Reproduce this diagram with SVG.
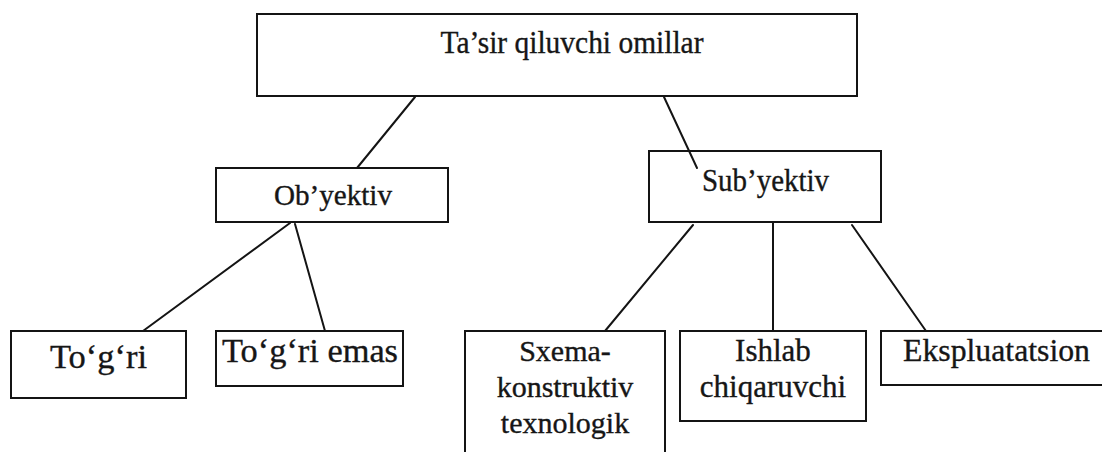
<svg xmlns="http://www.w3.org/2000/svg" width="1102" height="452" viewBox="0 0 1102 452">
  <style>
    .box { fill: #ffffff; stroke: #141414; stroke-width: 2; }
    .link { stroke: #141414; stroke-width: 2; fill: none; stroke-linecap: round; }
    .lbl { font-family: 'Liberation Serif', 'DejaVu Serif', 'Times New Roman', serif; fill: #161616; stroke: #161616; stroke-width: 0.35; text-anchor: middle; }
  </style>
  <rect width="1102" height="452" fill="#ffffff"/>

  <!-- top-level factor -->
  <g id="node-root">
    <rect class="box" x="257" y="14" width="600" height="82"/>
    <text class="lbl" x="572" y="53" font-size="31" textLength="263" lengthAdjust="spacingAndGlyphs">Ta’sir qiluvchi omillar</text>
  </g>

  <!-- second level -->
  <g id="node-obyektiv">
    <rect class="box" x="216" y="168" width="232" height="54"/>
    <text class="lbl" x="333" y="205" font-size="29" textLength="118" lengthAdjust="spacingAndGlyphs">Ob’yektiv</text>
  </g>
  <g id="node-subyektiv">
    <rect class="box" x="649" y="151" width="232" height="71"/>
    <text class="lbl" x="765.5" y="191" font-size="31" textLength="127" lengthAdjust="spacingAndGlyphs">Sub’yektiv</text>
  </g>

  <!-- objective branch leaves -->
  <g id="node-togri">
    <rect class="box" x="11" y="331" width="175" height="67"/>
    <text class="lbl" x="98.5" y="368" font-size="34" textLength="97" lengthAdjust="spacingAndGlyphs">To‘g‘ri</text>
  </g>
  <g id="node-togri-emas">
    <rect class="box" x="216" y="331" width="187" height="55"/>
    <text class="lbl" x="310" y="362" font-size="34" textLength="176" lengthAdjust="spacingAndGlyphs">To‘g‘ri emas</text>
  </g>

  <!-- subjective branch leaves -->
  <g id="node-sxema">
    <rect class="box" x="465" y="331" width="200" height="140"/>
    <text class="lbl" x="565" y="361" font-size="30">Sxema-</text>
    <text class="lbl" x="565" y="397" font-size="30">konstruktiv</text>
    <text class="lbl" x="565" y="433" font-size="30">texnologik</text>
  </g>
  <g id="node-ishlab">
    <rect class="box" x="680" y="331" width="186" height="90"/>
    <text class="lbl" x="773" y="361" font-size="31">Ishlab</text>
    <text class="lbl" x="773" y="397" font-size="31">chiqaruvchi</text>
  </g>
  <g id="node-ekspluatatsion">
    <rect class="box" x="881" y="331" width="240" height="54"/>
    <text class="lbl" x="996.5" y="361" font-size="31.5" textLength="187" lengthAdjust="spacingAndGlyphs">Ekspluatatsion</text>
  </g>

  <!-- connectors -->
  <g id="connectors">
    <line class="link" x1="415" y1="97" x2="357" y2="168"/>
    <line class="link" x1="664" y1="97" x2="697" y2="168"/>
    <line class="link" x1="290" y1="223" x2="143" y2="331"/>
    <line class="link" x1="295" y1="224" x2="325" y2="331"/>
    <line class="link" x1="693" y1="225" x2="605" y2="331"/>
    <line class="link" x1="773" y1="222" x2="773" y2="331"/>
    <line class="link" x1="852" y1="225" x2="926" y2="331"/>
  </g>
</svg>
